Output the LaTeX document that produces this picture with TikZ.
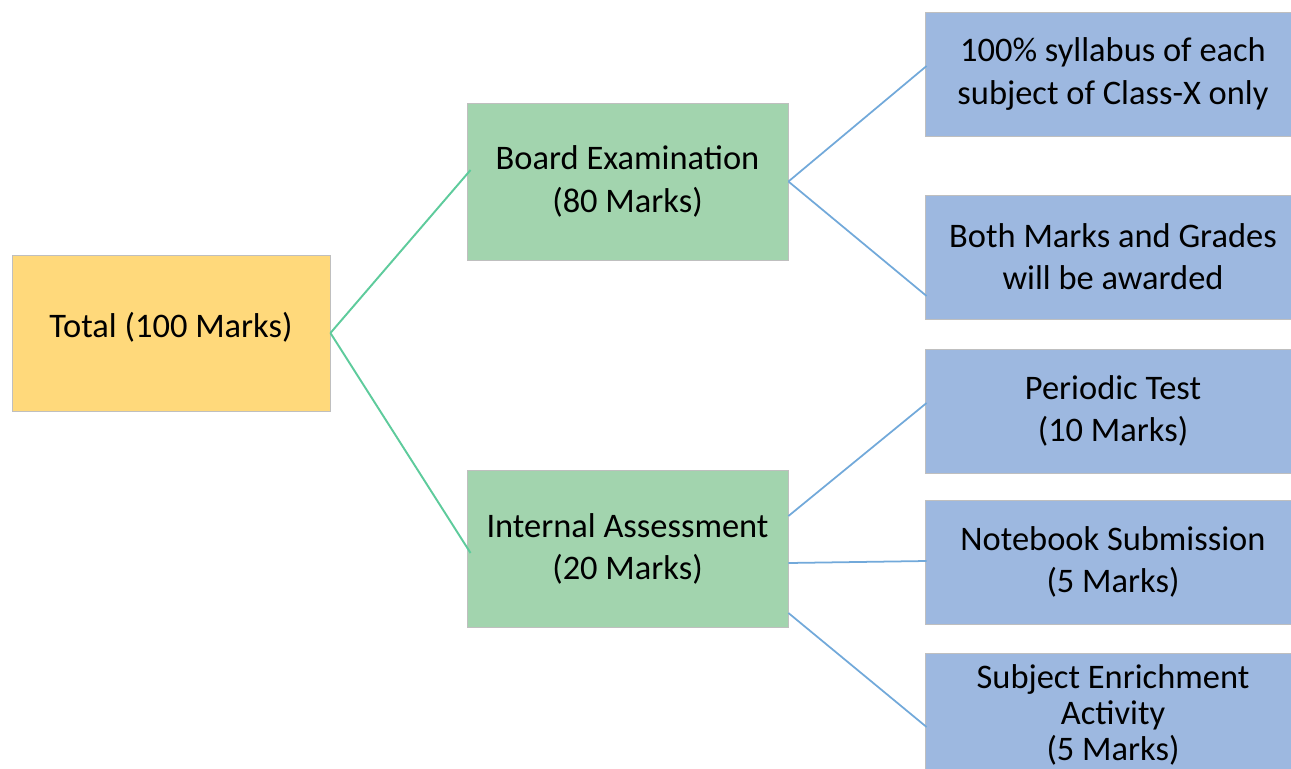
\documentclass[tikz,border=0pt]{standalone}
\usepackage{fontspec}
\setmainfont{Carlito}
\usepackage{tikz}
\usetikzlibrary{positioning}

\definecolor{totalfill}{HTML}{FFD97B}
\definecolor{greenfill}{HTML}{A2D4AE}
\definecolor{bluefill}{HTML}{9DB8E0}
\definecolor{greenline}{HTML}{5ECB9C}
\definecolor{blueline}{HTML}{72A9DA}

\begin{document}
\begin{tikzpicture}[font=\fontsize{19.6}{24}\selectfont]
    \tikzstyle{box}=[rectangle, draw=black!25, line width=0.5pt, align=center, inner sep=0pt]
    \tikzstyle{total}=[box, fill=totalfill, minimum width=6.36cm, minimum height=3.12cm]
    \tikzstyle{part}=[box, fill=greenfill, minimum width=6.42cm, minimum height=3.14cm]
    \tikzstyle{item}=[box, fill=bluefill, minimum width=7.52cm, minimum height=2.48cm]
    \tikzstyle{gline}=[draw=greenline, line width=1.1pt]
    \tikzstyle{bline}=[draw=blueline, line width=1pt]

    \useasboundingbox (0,0) rectangle (25.82,-15.38);

    \node[total] (tot) at (3.42,-6.66) {\raisebox{0.32cm}{Total (100 Marks)}};

    \node[part] (board) at (12.55,-3.63) {Board Examination\\(80 Marks)};
    \node[part] (ia)    at (12.55,-10.98) {Internal Assessment\\(20 Marks)};

    \node[item] (syl)  at (22.26,-1.48) {100\% syllabus of each\\subject of Class-X only};
    \node[item] (both) at (22.26,-5.14) {Both Marks and Grades\\will be awarded};
    \node[item] (pt)   at (22.26,-8.22) {Periodic Test\\(10 Marks)};
    \node[item] (nb)   at (22.26,-11.24) {Notebook Submission\\(5 Marks)};
    \node[item, font=\fontsize{19.6}{20.6}\selectfont] (sea) at (22.26,-14.30)
        {Subject Enrichment\\Activity\\(5 Marks)};

    % first level
    \draw[gline] (tot.east) -- ([shift={(0.08,0.23)}]board.west);
    \draw[gline] (tot.east) -- ([shift={(0.08,-0.08)}]ia.west);

    % second level
    \draw[bline] (board.east) -- ([shift={(0.04,0.16)}]syl.west);
    \draw[bline] (board.east) -- ([shift={(0.04,-0.78)}]both.west);
    \draw[bline] ([yshift=0.66cm]ia.east) -- ([shift={(0.04,0.16)}]pt.west);
    \draw[bline] ([yshift=-0.28cm]ia.east) -- ([shift={(0.04,0.02)}]nb.west);
    \draw[bline] ([yshift=-1.28cm]ia.east) -- ([shift={(0.04,-0.24)}]sea.west);
\end{tikzpicture}
\end{document}
